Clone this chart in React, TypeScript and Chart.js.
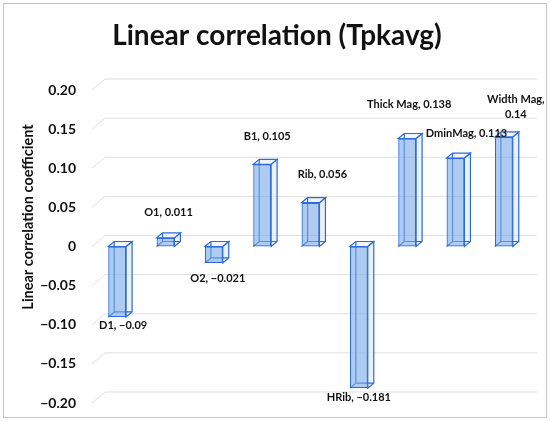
import React, { useEffect, useRef } from 'react';
import { Chart, registerables } from 'chart.js';

Chart.register(...registerables);

// data
const categories = ['D1', 'O1', 'O2', 'B1', 'Rib', 'HRib', 'Thick Mag', 'DminMag', 'Width Mag'];
const coefficients = [-0.09, 0.011, -0.021, 0.105, 0.056, -0.181, 0.138, 0.113, 0.14];
const yTicks = [0.2, 0.15, 0.1, 0.05, 0, -0.05, -0.1, -0.15, -0.2];

// label nudges (layout only), [dx, dy] from the bar end
const labelNudge = [[6, 9], [3, -25], [4, 16], [5, -28], [12, -28], [0, 9], [2, -34], [11, -25], [12, -30]];

const FONT = 'Lato, "Noto Sans", sans-serif';
const EDGE = '#2f6bd3';
const DEPTH_X = 6;
const DEPTH_Y = -5;

const fmt = (v: number) => (v < 0 ? '\u2212' + String(Math.abs(v)) : String(v));

const boxPlugin = {
    id: 'box3d',
    beforeDatasetsDraw(chart: any) {
        const ctx = chart.ctx;
        const area = chart.chartArea;
        const y = chart.scales.y;

        // back wall gridlines
        ctx.save();
        ctx.strokeStyle = '#e0e0e0';
        ctx.lineWidth = 1;
        y.ticks.forEach((t: any) => {
            const py = y.getPixelForValue(t.value);
            ctx.beginPath();
            ctx.moveTo(area.left - 1, py);
            ctx.lineTo(area.left + 12, py - 11);
            ctx.lineTo(area.right + 9, py - 11);
            ctx.stroke();
        });
        ctx.restore();

        // depth of each bar
        const meta = chart.getDatasetMeta(0);
        ctx.save();
        ctx.strokeStyle = EDGE;
        ctx.lineWidth = 1.2;
        meta.data.forEach((bar: any) => {
            const p = bar.getProps(['x', 'y', 'base', 'width'], true);
            const x0 = p.x - p.width / 2;
            const x1 = p.x + p.width / 2;
            const top = Math.min(p.y, p.base);
            const bot = Math.max(p.y, p.base);
            // right side
            ctx.fillStyle = 'rgba(214,230,250,0.55)';
            ctx.beginPath();
            ctx.moveTo(x1, top);
            ctx.lineTo(x1 + DEPTH_X, top + DEPTH_Y);
            ctx.lineTo(x1 + DEPTH_X, bot + DEPTH_Y);
            ctx.lineTo(x1, bot);
            ctx.closePath();
            ctx.fill();
            ctx.stroke();
            // top
            ctx.fillStyle = 'rgba(230,240,252,0.6)';
            ctx.beginPath();
            ctx.moveTo(x0, top);
            ctx.lineTo(x0 + DEPTH_X, top + DEPTH_Y);
            ctx.lineTo(x1 + DEPTH_X, top + DEPTH_Y);
            ctx.lineTo(x1, top);
            ctx.closePath();
            ctx.fill();
            ctx.stroke();
            // hidden back edges seen through
            ctx.beginPath();
            ctx.moveTo(x0 + DEPTH_X, top + DEPTH_Y);
            ctx.lineTo(x0 + DEPTH_X, bot + DEPTH_Y);
            ctx.lineTo(x1 + DEPTH_X, bot + DEPTH_Y);
            ctx.moveTo(x0, bot);
            ctx.lineTo(x0 + DEPTH_X, bot + DEPTH_Y);
            ctx.stroke();
        });
        ctx.restore();
    },
    afterDatasetsDraw(chart: any) {
        const ctx = chart.ctx;
        const meta = chart.getDatasetMeta(0);
        ctx.save();
        ctx.fillStyle = '#111';
        ctx.font = `bold 11px ${FONT}`;
        ctx.textAlign = 'center';
        ctx.textBaseline = 'middle';
        meta.data.forEach((bar: any, i: number) => {
            const v = coefficients[i];
            const [dx, dy] = labelNudge[i];
            const lx = bar.x + dx;
            const ly = bar.y + dy;
            const name = categories[i];
            if (name === 'Width Mag') {
                ctx.fillText(name + ',', lx, ly - 7);
                ctx.fillText(fmt(v), lx, ly + 8);
            } else {
                ctx.fillText(`${name}, ${fmt(v)}`, lx, ly);
            }
        });

        // chart title
        ctx.font = `bold 28px ${FONT}`;
        ctx.fillText('Linear correlation (Tpkavg)', 277, 36);

        // axis title
        ctx.translate(28, 217);
        ctx.rotate(-Math.PI / 2);
        ctx.font = `bold 14.5px ${FONT}`;
        ctx.fillText('Linear correlation coefficient', 0, 0);
        ctx.restore();
    }
};

const App = () => {
    const chartRef = useRef<HTMLCanvasElement>(null);
    const chartInstance = useRef<Chart | null>(null);

    useEffect(() => {
        if (!chartRef.current) return;
        if (chartInstance.current) chartInstance.current.destroy();

        chartInstance.current = new Chart(chartRef.current, {
            type: 'bar',
            data: {
                labels: categories,
                datasets: [
                    {
                        label: 'Linear correlation',
                        data: coefficients,
                        backgroundColor: 'rgba(120,170,232,0.6)',
                        borderColor: EDGE,
                        borderWidth: 1.2,
                        borderSkipped: false,
                        barPercentage: 0.37,
                        categoryPercentage: 1
                    }
                ]
            },
            options: {
                responsive: false,
                animation: false,
                layout: { padding: { top: 90, bottom: 19, right: 22, left: 0 } },
                plugins: {
                    legend: { display: false },
                    title: { display: false },
                    tooltip: { enabled: false }
                },
                scales: {
                    x: { display: false, offset: true },
                    y: {
                        min: -0.2,
                        max: 0.2,
                        afterFit: (scale: any) => {
                            scale.width = 93;
                            scale.paddingTop = 0;
                            scale.paddingBottom = 0;
                        },
                        afterBuildTicks: (scale: any) => {
                            scale.ticks = yTicks.map((v) => ({ value: v }));
                        },
                        ticks: {
                            padding: 17,
                            color: '#111',
                            font: { family: FONT, size: 14, weight: 'bold' },
                            callback: (v: any) => {
                                const n = Number(v);
                                if (Math.abs(n) < 1e-9) return '0';
                                return (n < 0 ? '\u2212' : '') + Math.abs(n).toFixed(2);
                            }
                        },
                        grid: { display: false, drawTicks: false },
                        border: { display: false }
                    }
                }
            },
            plugins: [boxPlugin]
        });

        return () => {
            if (chartInstance.current) {
                chartInstance.current.destroy();
                chartInstance.current = null;
            }
        };
    }, []);

    return (
        <div style={{ position: 'absolute', left: 0, top: 0, width: 550, height: 422, background: '#fff' }}>
            <canvas ref={chartRef} width={550} height={422} style={{ width: 550, height: 422 }}></canvas>
            <div
                style={{
                    position: 'absolute',
                    left: 3,
                    top: 3,
                    width: 542,
                    height: 413,
                    border: '1.5px solid #c4c4c4',
                    pointerEvents: 'none'
                }}
            ></div>
        </div>
    );
};

export default App;
